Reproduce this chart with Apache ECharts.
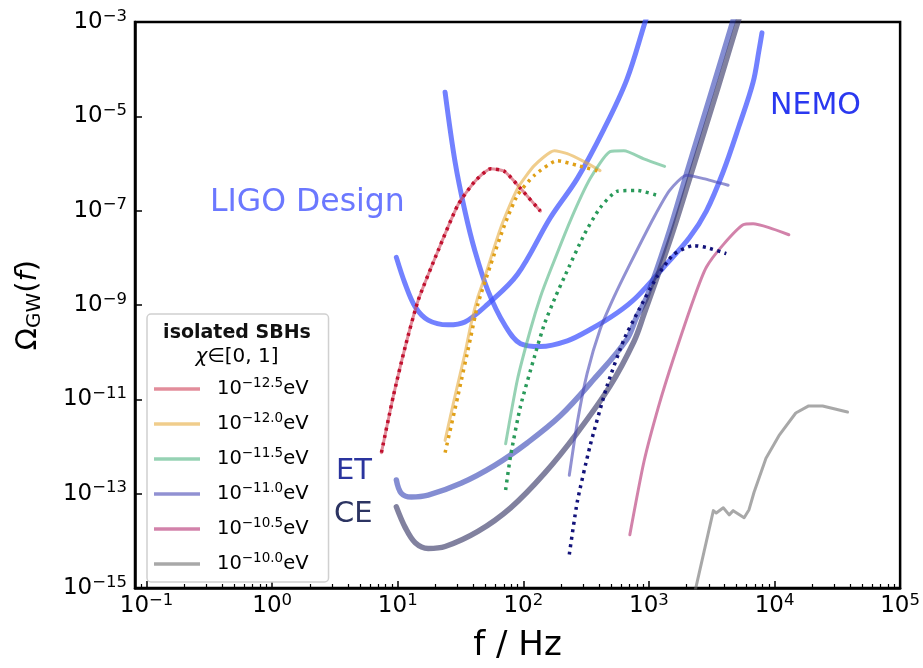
<!DOCTYPE html>
<html><head><meta charset="utf-8">
<script src="https://cdn.jsdelivr.net/npm/echarts@6/dist/echarts.min.js"></script>
<style>html,body{margin:0;padding:0;background:#fff}#c{width:923px;height:668px}</style>
</head><body><div id="c"></div>
<script>
// ---- tick labels (log10 exponents) ----
const xTickExps = [-1, 0, 1, 2, 3, 4, 5];
const yTickExps = [-15, -13, -11, -9, -7, -5, -3];
const xMinorExps = [];
for (let n = -2; n <= 4; n++) for (let k = 2; k <= 9; k++) xMinorExps.push(n + Math.log10(k));

// ---- data: log10(f / Hz) and log10(Omega_GW) ----
const ligoLogF  = [0.989,1.060,1.139,1.242,1.400,1.535,1.717,1.954,2.215,2.429,2.642,2.824,2.967,3.000];
const ligoLogO  = [-7.99,-8.56,-9.04,-9.32,-9.42,-9.36,-8.98,-8.35,-7.15,-6.32,-5.27,-4.22,-3.02,-2.74];
const nemoLogF  = [1.377,1.456,1.535,1.614,1.717,1.851,1.978,2.136,2.350,2.532,2.745,2.903,3.117,3.323,3.457,3.592,3.718,3.829,3.877,3.900];
const nemoLogO  = [-4.49,-5.96,-7.01,-7.85,-8.69,-9.42,-9.82,-9.88,-9.76,-9.52,-9.17,-8.83,-8.20,-7.57,-7.01,-6.17,-5.20,-4.28,-3.59,-3.23];
const etLogF    = [0.989,1.028,1.108,1.242,1.503,1.772,2.033,2.294,2.563,2.824,2.903,2.983,3.141,3.315,3.497,3.671,3.700];
const etLogO    = [-12.71,-12.99,-13.07,-13.03,-12.78,-12.40,-11.92,-11.35,-10.57,-9.73,-9.25,-8.83,-7.62,-6.08,-4.49,-2.96,-2.70];
const ceLogF    = [0.989,1.060,1.139,1.242,1.377,1.638,1.899,2.168,2.429,2.690,2.880,2.959,3.180,3.354,3.536,3.718,3.750];
const ceLogO    = [-13.28,-13.72,-14.04,-14.16,-14.12,-13.80,-13.30,-12.57,-11.71,-10.72,-9.78,-9.21,-7.53,-6.06,-4.51,-2.92,-2.70];

const m125LogF  = [0.870,0.965,1.060,1.163,1.321,1.479,1.614,1.741,1.851,1.978,2.136];
const m125LogO  = [-12.13,-10.93,-9.88,-8.90,-7.85,-6.88,-6.38,-6.11,-6.17,-6.53,-7.01];
const m120LogF  = [1.377,1.456,1.535,1.582,1.638,1.693,1.820,1.954,2.089,2.247,2.350,2.484,2.611];
const m120LogO  = [-11.87,-10.93,-10.03,-9.42,-8.83,-8.41,-7.36,-6.53,-6.04,-5.73,-5.79,-5.96,-6.15];
const m120dLogF = [1.377,1.479,1.582,1.638,1.741,1.851,1.954,2.089,2.271,2.429,2.611];
const m120dLogO = [-12.13,-10.93,-9.67,-8.98,-8.14,-7.30,-6.67,-6.25,-5.94,-6.04,-6.17];
const m115LogF  = [1.859,1.954,2.057,2.136,2.215,2.373,2.532,2.690,2.801,2.959,3.125];
const m115LogO  = [-11.94,-10.57,-9.52,-8.83,-8.27,-7.22,-6.32,-5.75,-5.73,-5.90,-6.06];
const m115dLogF = [1.859,1.899,1.978,2.089,2.168,2.255,2.326,2.484,2.611,2.745,2.903,3.085];
const m115dLogO = [-12.92,-12.19,-11.14,-10.09,-9.40,-8.83,-8.41,-7.51,-6.94,-6.59,-6.57,-6.69];
const m110LogF  = [2.366,2.429,2.508,2.611,2.722,2.848,3.038,3.165,3.299,3.434,3.631];
const m110LogO  = [-12.61,-11.50,-10.45,-9.52,-8.83,-8.14,-7.15,-6.57,-6.25,-6.32,-6.46];
const m110dLogF = [2.366,2.429,2.532,2.666,2.801,2.903,3.062,3.196,3.354,3.457,3.616];
const m110dLogO = [-14.29,-13.18,-11.98,-10.72,-9.73,-9.19,-8.41,-7.93,-7.74,-7.78,-7.91];
const m105LogF  = [2.848,2.959,3.078,3.196,3.362,3.457,3.592,3.750,3.829,3.956,4.114];
const m105LogO  = [-13.87,-12.34,-11.14,-10.13,-8.83,-8.20,-7.72,-7.30,-7.28,-7.36,-7.51];
const m100LogF  = [3.362,3.513,3.536,3.592,3.639,3.671,3.758,3.797,3.837,3.932,4.035,4.169,4.272,4.383,4.581];
const m100LogO  = [-15.13,-13.36,-13.41,-13.30,-13.45,-13.36,-13.51,-13.34,-12.97,-12.25,-11.77,-11.29,-11.14,-11.14,-11.27];

const massExps = ['−12.5', '−12.0', '−11.5', '−11.0', '−10.5', '−10.0'];
const massNames = massExps.map(e => 'm' + e);

const FONT = 'DejaVu Sans';
const zip = (a, b) => a.map((v, i) => [v, b[i]]);
const series = [];
function addLine(name, fx, fy, color, width, dotted, smooth, z) {
  series.push({
    type: 'line', name: name, data: zip(fx, fy), showSymbol: false, symbol: 'none',
    smooth: smooth, color: color, clip: true, silent: true, animation: false, z: z,
    lineStyle: { color: color, width: width, type: dotted ? [3, 4.5] : 'solid', cap: dotted ? 'butt' : 'round', join: 'round' }
  });
}
const SM = 0.2, SMD = 0.35;
// sensitivity curves
addLine('LIGO', ligoLogF, ligoLogO, 'rgba(60,80,255,0.72)', 5, false, SMD, 2);
addLine('NEMO', nemoLogF, nemoLogO, 'rgba(60,80,255,0.72)', 5, false, SMD, 2);
addLine('ET', etLogF, etLogO, 'rgba(50,65,180,0.6)', 5.5, false, SMD, 2);
addLine('CE', ceLogF, ceLogO, 'rgba(45,45,95,0.6)', 5.5, false, SMD, 2);
// signals
addLine(massNames[0], m125LogF, m125LogO, 'rgba(207,65,88,0.6)', 3, false, SM, 3);
addLine('d125', m125LogF, m125LogO, '#c0102e', 3.5, true, SM, 4);
addLine(massNames[1], m120LogF, m120LogO, 'rgba(230,172,63,0.6)', 3, false, SM, 3);
addLine('d120', m120dLogF, m120dLogO, '#e0a018', 3.5, true, SM, 4);
addLine(massNames[2], m115LogF, m115LogO, 'rgba(80,180,130,0.6)', 3, false, SM, 3);
addLine('d115', m115dLogF, m115dLogO, '#2a9a5a', 3.5, true, SM, 4);
addLine(massNames[3], m110LogF, m110LogO, 'rgba(72,72,180,0.6)', 3, false, SM, 3);
addLine('d110', m110dLogF, m110dLogO, '#12127a', 3.5, true, SM, 4);
addLine(massNames[4], m105LogF, m105LogO, 'rgba(180,47,113,0.6)', 3, false, SM, 3);
addLine(massNames[5], m100LogF, m100LogO, 'rgba(110,110,110,0.6)', 3, false, false, 3);

const supLabel = v => '{b|10}{s|' + (v < 0 ? '−' + Math.abs(v) : String(v)) + '}';
const tickRich = {
  b: { fontFamily: FONT, fontSize: 23, color: '#000', lineHeight: 28 },
  s: { fontFamily: FONT, fontSize: 16.5, color: '#000', lineHeight: 13, verticalAlign: 'top' }
};

const chart = echarts.init(document.getElementById('c'), null, { renderer: 'canvas' });
chart.setOption({
  animation: false,
  backgroundColor: '#fff',
  grid: { left: 135, right: 18, top: 22, bottom: 74, show: true, borderColor: '#000', borderWidth: 2.5, containLabel: false },
  xAxis: [{
    type: 'value', min: -1.092, max: 5, position: 'bottom',
    axisLine: { show: true, onZero: false, lineStyle: { color: '#000', width: 2.5 } },
    axisTick: { show: true, inside: true, length: 7, customValues: xTickExps, lineStyle: { color: '#000', width: 1.5 } },
    axisLabel: { show: true, customValues: xTickExps, margin: 4, formatter: supLabel, rich: tickRich },
    splitLine: { show: false },
    name: 'f / Hz', nameLocation: 'middle', nameGap: 41,
    nameTextStyle: { fontFamily: FONT, fontSize: 34, color: '#000' }
  }, {
    type: 'value', min: -1.092, max: 5, position: 'bottom',
    axisLine: { show: false, onZero: false },
    axisTick: { show: true, inside: true, length: 4, customValues: xMinorExps, lineStyle: { color: '#000', width: 1.2 } },
    axisLabel: { show: false },
    splitLine: { show: false }
  }],
  yAxis: [{
    type: 'value', min: -15, max: -3, position: 'left',
    axisLine: { show: true, onZero: false, lineStyle: { color: '#000', width: 2.5 } },
    axisTick: { show: true, inside: true, length: 7, customValues: yTickExps, lineStyle: { color: '#000', width: 1.5 } },
    axisLabel: { show: true, customValues: yTickExps, margin: 8, formatter: supLabel, rich: tickRich },
    splitLine: { show: false },
    name: '{o|Ω}{g|GW}{o|(}{f|f}{o|)}', nameLocation: 'middle', nameGap: 90, nameRotate: 90,
    nameTextStyle: {
      rich: {
        o: { fontFamily: FONT, fontSize: 29, color: '#000', lineHeight: 34 },
        g: { fontFamily: FONT, fontSize: 20, color: '#000', lineHeight: 24, verticalAlign: 'bottom' },
        f: { fontFamily: FONT, fontSize: 29, color: '#000', lineHeight: 34, fontStyle: 'italic' }
      }
    }
  }],
  legend: {
    data: massNames, orient: 'vertical', left: 147, top: 314,
    padding: [62, 20, 8, 7], itemWidth: 46, itemHeight: 3.5, itemGap: 12, icon: 'rect',
    backgroundColor: '#fff', borderColor: '#d0d0d0', borderWidth: 1.5, borderRadius: 4,
    selectedMode: false, z: 10,
    formatter: n => '{b|10}{s|' + n.slice(1) + '}{b|eV}',
    textStyle: {
      fontFamily: FONT, fontSize: 19, color: '#000', padding: [0, 0, 0, 12],
      rich: {
        b: { fontFamily: FONT, fontSize: 19.5, color: '#000', lineHeight: 26 },
        s: { fontFamily: FONT, fontSize: 13.5, color: '#000', lineHeight: 10, verticalAlign: 'top' }
      }
    }
  },
  graphic: [
    { type: 'text', z: 100, x: 210, y: 203, style: { text: 'LIGO Design', fontFamily: FONT, fontSize: 31.5, fill: '#6b78ff', verticalAlign: 'middle', align: 'left' } },
    { type: 'text', z: 100, x: 770, y: 106, style: { text: 'NEMO', fontFamily: FONT, fontSize: 30, fill: '#2a38f0', verticalAlign: 'middle', align: 'left' } },
    { type: 'text', z: 100, x: 336, y: 471, style: { text: 'ET', fontFamily: FONT, fontSize: 29, fill: '#2a349e', verticalAlign: 'middle', align: 'left' } },
    { type: 'text', z: 100, x: 334, y: 514, style: { text: 'CE', fontFamily: FONT, fontSize: 29, fill: '#2c3462', verticalAlign: 'middle', align: 'left' } },
    { type: 'text', z: 100, x: 237, y: 333, style: { text: 'isolated SBHs', fontFamily: FONT, fontSize: 19, fontWeight: 'bold', fill: '#111', verticalAlign: 'middle', align: 'center' } },
    { type: 'text', z: 100, x: 237, y: 357, style: { text: '{i|χ}{r|∈[0, 1]}', verticalAlign: 'middle', align: 'center',
      rich: { i: { fontFamily: FONT, fontSize: 20, fontStyle: 'italic', fill: '#000', color: '#000' }, r: { fontFamily: FONT, fontSize: 20, fill: '#000', color: '#000' } } } }
  ],
  series: series
});
</script>
</body></html>
